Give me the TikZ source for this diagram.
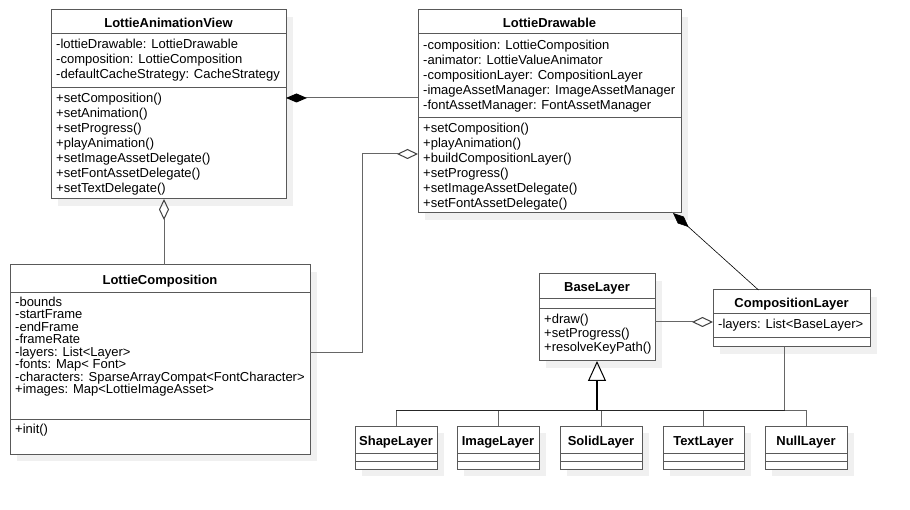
\documentclass[tikz,border=0pt]{standalone}
\usepackage{fontspec}
\setmainfont{Liberation Sans}
\usetikzlibrary{arrows.meta, positioning, shadows, calc}

\begin{document}
\begin{tikzpicture}[x=1pt, y=-1pt]
	% Define styles for classes and connectors
	\tikzstyle{cls} = [rectangle, draw=black!65, line width=1pt, fill=white, anchor=north west, inner sep=0pt, outer sep=0pt, drop shadow={shadow xshift=7pt, shadow yshift=-7pt, fill=black!6, opacity=1}]
	\tikzstyle{cname} = [font=\bfseries\fontsize{13}{15}\selectfont, text height=11pt, text depth=0pt, inner sep=0pt]
	\tikzstyle{members} = [anchor=north west, align=left, inner sep=0pt, font=\fontsize{13}{15}\selectfont]
	\tikzstyle{divider} = [draw=black!65, line width=1pt]
	\tikzstyle{link} = [draw=black!60, line width=1pt]
	\tikzstyle{bus} = [draw=black!85, line width=1pt]
	\tikzstyle{compo} = [link, {Diamond[length=21pt, width=9pt, color=black]}-]
	\tikzstyle{aggr} = [link, {Diamond[open, length=21pt, width=10pt, color=black!75]}-]
	\tikzstyle{inherit} = [draw=black, line width=2.5pt, -{Triangle[open, length=20pt, width=18pt, line width=1pt]}]

	\path[use as bounding box, fill=white] (0,0) rectangle (910,510);

	% LottieAnimationView
	\node[cls, minimum width=235pt, minimum height=189pt] (lav) at (51,10) {};
	\node[cname] (lav-t) at (lav.north |- 0,22) {LottieAnimationView};
	\draw[divider] (lav.west |- 0,34) -- (lav.east |- 0,34);
	\draw[divider] (lav.west |- 0,88) -- (lav.east |- 0,88);
	\node[members] (lav-a) at (56,39) {-lottieDrawable: LottieDrawable\\-composition: LottieComposition\\-defaultCacheStrategy: CacheStrategy};
	\node[members] (lav-m) at (56,93) {+setComposition()\\+setAnimation()\\+setProgress()\\+playAnimation()\\+setImageAssetDelegate()\\+setFontAssetDelegate()\\+setTextDelegate()};

	% LottieDrawable
	\node[cls, minimum width=263pt, minimum height=203pt] (ld) at (418,10) {};
	\node[cname] (ld-t) at (ld.north |- 0,22) {LottieDrawable};
	\draw[divider] (ld.west |- 0,34) -- (ld.east |- 0,34);
	\draw[divider] (ld.west |- 0,118) -- (ld.east |- 0,118);
	\node[members] (ld-a) at (423,39.5) {-composition: LottieComposition\\-animator: LottieValueAnimator\\-compositionLayer: CompositionLayer\\-imageAssetManager: ImageAssetManager\\-fontAssetManager: FontAssetManager};
	\node[members] (ld-m) at (423,123) {+setComposition()\\+playAnimation()\\+buildCompositionLayer()\\+setProgress()\\+setImageAssetDelegate()\\+setFontAssetDelegate()};

	% LottieComposition
	\node[cls, minimum width=300pt, minimum height=189pt] (lc) at (10,265) {};
	\node[cname] (lc-t) at (lc.north |- 0,279) {LottieComposition};
	\draw[divider] (lc.west |- 0,293) -- (lc.east |- 0,293);
	\draw[divider] (lc.west |- 0,419) -- (lc.east |- 0,419);
	\node[members, font=\fontsize{13}{12.5}\selectfont] (lc-a) at (15,296.5) {-bounds\\-startFrame\\-endFrame\\-frameRate\\-layers: List<Layer>\\-fonts: Map< Font>\\-characters: SparseArrayCompat<FontCharacter>\\+images: Map<LottieImageAsset>};
	\node[members] (lc-m) at (15,424) {+init()};

	% BaseLayer
	\node[cls, minimum width=116pt, minimum height=87pt] (bl) at (539,274) {};
	\node[cname] (bl-t) at (bl.north |- 0,286.5) {BaseLayer};
	\draw[divider] (bl.west |- 0,299) -- (bl.east |- 0,299);
	\draw[divider] (bl.west |- 0,309) -- (bl.east |- 0,309);
	\node[members, font=\fontsize{13}{14}\selectfont] (bl-m) at (544,314) {+draw()\\+setProgress()\\+resolveKeyPath()};

	% CompositionLayer
	\node[cls, minimum width=157pt, minimum height=57pt] (cl) at (713,290) {};
	\node[cname] (cl-t) at (cl.north |- 0,302) {CompositionLayer};
	\draw[divider] (cl.west |- 0,314) -- (cl.east |- 0,314);
	\draw[divider] (cl.west |- 0,338) -- (cl.east |- 0,338);
	\node[members] (cl-a) at (718,319) {-layers: List<BaseLayer>};

	% Subclasses of BaseLayer
	\coordinate (trunk) at (bl.south |- 0,410);
	\coordinate (clfoot) at ([xshift=-7pt]cl.south);
	\foreach \n/\x/\w/\label in {shapeL/355/82/ShapeLayer, imageL/457/82/ImageLayer, solidL/560/82/SolidLayer, textL/663/81/TextLayer, nullL/765/82/NullLayer} {
		\node[cls, minimum width=\w pt, minimum height=43pt] (\n) at (\x,426) {};
		\node[cname] (\n-t) at (\n.north |- 0,439.5) {\label};
		\draw[divider] (\n.west |- 0,453) -- (\n.east |- 0,453);
		\draw[divider] (\n.west |- 0,461) -- (\n.east |- 0,461);
		\draw[link] (\n.north) |- (trunk);
	}

	% Associations
	\draw[compo] (lav.east |- 0,98) -- (ld.west |- 0,98);
	\coordinate (lctop) at ([xshift=4pt]lc.north);
	\draw[aggr] (lav.south -| lctop) -- (lctop);
	\coordinate (bend) at (362,154);
	\draw[aggr] (ld.west |- bend) -- (bend) |- (lc.east |- 0,353);
	\draw[compo, draw=black, line width=0.6pt] ([xshift=-8pt]ld.south east) -- ([xshift=-33pt]cl.north);
	\draw[aggr] (cl.west |- 0,322) -- (bl.east |- 0,322);

	% Inheritance
	\draw[link] (clfoot) |- (trunk);
	\draw[bus] (shapeL.north |- trunk) -- (clfoot |- trunk);
	\draw[inherit] (trunk) -- (bl.south);

\end{tikzpicture}
\end{document}
